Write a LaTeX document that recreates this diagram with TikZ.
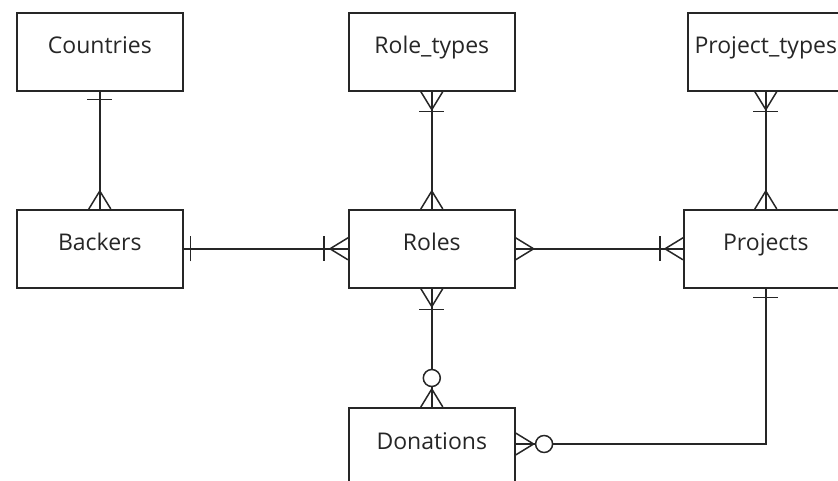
\documentclass[tikz,border=0pt]{standalone}
\usepackage{fontspec}
\setmainfont{Open Sans}
\usetikzlibrary{calc}
\definecolor{ink}{HTML}{262626}
\tikzset{
  entity/.style={draw=ink, line width=1.6pt, minimum width=166pt, minimum height=78pt,
    inner sep=0pt, anchor=north west},
  label/.style={text=ink, font=\fontsize{23}{27}\selectfont, inner sep=0pt},
  link/.style={draw=ink, line width=1.5pt},
  endmark/.style={draw=ink, line width=1.5pt},
  % crow's foot: three prongs meeting 18pt from the entity edge
  pics/many/.style={code={\draw[endmark] (0,11) -- (18,0) -- (0,-11);}},
  % single bar at distance #1 from the entity edge
  pics/bar/.style={code={\draw[endmark] (#1,12.5) -- (#1,-12.5);}},
  % optional ring centred at distance #1
  pics/ring/.style={code={\draw[endmark, fill=white] (#1,0) circle (8.5);}},
}
\begin{document}
\begin{tikzpicture}[x=1pt, y=-1pt]
  \useasboundingbox (0,0) rectangle (838,481);
  \clip (0,0) rectangle (838,481);

  % entities
  \node[entity] (countries) at (16,12) {};
  \node[entity] (roletypes) at (348,12) {};
  \node[entity, minimum width=156pt] (projtypes) at (687,12) {};
  \node[entity] (backers) at (16,209) {};
  \node[entity] (roles) at (348,209) {};
  \node[entity, minimum width=164pt] (projects) at (683,209) {};
  \node[entity] (donations) at (348,407) {};

  % entity names, set on a common baseline inside each box
  \foreach \n/\t in {countries/Countries, roletypes/Role\_types, projtypes/Project\_types,
                     backers/Backers, roles/Roles, projects/Projects, donations/Donations}
    \node[label, anchor=base] (\n-label) at ($(\n.north)+(0,42)$) {\t};

  % relationships
  \draw[link] (countries.south) -- (backers.north);
  \draw[link] (roletypes.south) -- (roles.north);
  \draw[link] (projtypes.south) -- (projects.north);
  \draw[link] (backers.east) -- (roles.west);
  \draw[link] (roles.east) -- (projects.west);
  \draw[link] (roles.south) -- (donations.north);
  \coordinate (corner) at (projects.south |- 0,444);
  \draw[link] (donations.east |- corner) -- (corner) -- (projects.south);

  % cardinality marks
  \pic[rotate=-90] at (countries.south) {bar=8};
  \pic[rotate=90] at (backers.north) {many};

  \pic at (backers.east) {bar=7};
  \pic[rotate=180] at (roles.west) {many};
  \pic[rotate=180] at (roles.west) {bar=24};

  \pic at (roles.east) {many};
  \pic[rotate=180] at (projects.west) {many};
  \pic[rotate=180] at (projects.west) {bar=23};

  \pic[rotate=-90] at (roletypes.south) {many};
  \pic[rotate=-90] at (roletypes.south) {bar=20};
  \pic[rotate=90] at (roles.north) {many};

  \pic[rotate=-90] at (projtypes.south) {many};
  \pic[rotate=-90] at (projtypes.south) {bar=20};
  \pic[rotate=90] at (projects.north) {many};

  \pic[rotate=-90] at (roles.south) {many};
  \pic[rotate=-90] at (roles.south) {bar=21};
  \pic[rotate=90] at (donations.north) {many};
  \pic[rotate=90] at (donations.north) {ring=29};

  \pic at (donations.east |- corner) {many};
  \pic at (donations.east |- corner) {ring=28.5};

  \pic[rotate=-90] at (projects.south) {bar=9};
\end{tikzpicture}
\end{document}
